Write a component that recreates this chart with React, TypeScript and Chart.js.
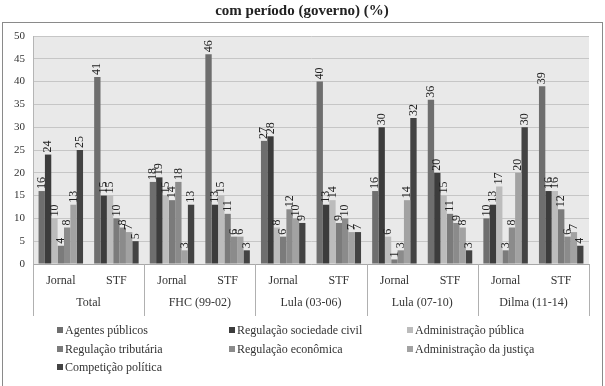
import React, { useEffect, useRef } from "react";
import { Chart, registerables } from "chart.js";

Chart.register(...registerables);

const TITLE = "com período (governo) (%)";
const subLabels = ["Jornal", "STF", "Jornal", "STF", "Jornal", "STF", "Jornal", "STF", "Jornal", "STF"];
const groupLabels = ["Total", "FHC (99-02)", "Lula (03-06)", "Lula (07-10)", "Dilma (11-14)"];
const seriesNames = [
  "Agentes públicos",
  "Regulação sociedade civil",
  "Administração pública",
  "Regulação tributária",
  "Regulação econômica",
  "Administração da justiça",
  "Competição política",
];
const agentesPublicos = [16, 41, 18, 46, 27, 40, 16, 36, 10, 39];
const regulacaoSociedadeCivil = [24, 15, 19, 13, 28, 13, 30, 20, 13, 16];
const administracaoPublica = [10, 15, 15, 15, 8, 14, 6, 15, 17, 16];
const regulacaoTributaria = [4, 10, 14, 11, 6, 9, 1, 11, 3, 12];
const regulacaoEconomica = [8, 8, 18, 6, 12, 10, 3, 9, 8, 6];
const administracaoJustica = [13, 7, 3, 6, 10, 7, 14, 8, 20, 7];
const competicaoPolitica = [25, 5, 13, 3, 9, 7, 32, 3, 30, 4];
const seriesColors = ["#6e6e6e", "#3c3c3c", "#bcbcbc", "#7b7b7b", "#8b8b8b", "#a2a2a2", "#434343"];
const yTicks = [0, 5, 10, 15, 20, 25, 30, 35, 40, 45, 50];

const FONT = "'Liberation Serif', 'Times New Roman', serif";

export default function App() {
  const ref = useRef<HTMLCanvasElement | null>(null);
  useEffect(() => {
    document.body.style.margin = "0";
    const canvas = ref.current;
    if (!canvas) return;
    const values = [
      agentesPublicos,
      regulacaoSociedadeCivil,
      administracaoPublica,
      regulacaoTributaria,
      regulacaoEconomica,
      administracaoJustica,
      competicaoPolitica,
    ];
    const decor = {
      id: "decor",
      beforeDraw(chart: any) {
        const ctx = chart.ctx;
        const a = chart.chartArea;
        ctx.save();
        ctx.fillStyle = "#ffffff";
        ctx.fillRect(0, 0, chart.width, chart.height);
        ctx.fillStyle = "#e9e9e9";
        ctx.fillRect(a.left, a.top, a.right - a.left, a.bottom - a.top);
        ctx.restore();
      },
      afterDraw(chart: any) {
        const ctx = chart.ctx;
        const a = chart.chartArea;
        const xs = chart.scales.x;
        ctx.save();
        // outer frame
        ctx.strokeStyle = "#8a8a8a";
        ctx.lineWidth = 1;
        ctx.strokeRect(2.5, 22.5, 600, 400);
        // title
        ctx.fillStyle = "#222";
        ctx.font = `bold 15px ${FONT}`;
        ctx.textAlign = "center";
        ctx.textBaseline = "middle";
        ctx.fillText(TITLE, 302, 11);
        // data labels
        ctx.font = `12px ${FONT}`;
        ctx.fillStyle = "#222";
        chart.data.datasets.forEach((ds: any, di: number) => {
          const meta = chart.getDatasetMeta(di);
          meta.data.forEach((el: any, i: number) => {
            ctx.save();
            ctx.translate(el.x, el.y - 2);
            ctx.rotate(-Math.PI / 2);
            ctx.textAlign = "left";
            ctx.textBaseline = "middle";
            ctx.fillText(String(ds.data[i]), 0, 0);
            ctx.restore();
          });
        });
        // group separators & labels
        ctx.strokeStyle = "#b0b0b0";
        ctx.lineWidth = 1;
        const n = subLabels.length;
        const bounds: number[] = [a.left];
        for (let g = 1; g < groupLabels.length; g++) {
          const i = g * 2;
          bounds.push((xs.getPixelForValue(i - 1) + xs.getPixelForValue(i)) / 2);
        }
        bounds.push(a.right);
        bounds.forEach((bx) => {
          const px = Math.round(bx) + 0.5;
          ctx.beginPath();
          ctx.moveTo(px, a.bottom);
          ctx.lineTo(px, a.bottom + 52);
          ctx.stroke();
        });
        ctx.font = `12px ${FONT}`;
        ctx.fillStyle = "#333";
        ctx.textAlign = "center";
        ctx.textBaseline = "middle";
        groupLabels.forEach((lab, g) => {
          const cx = (xs.getPixelForValue(g * 2) + xs.getPixelForValue(g * 2 + 1)) / 2;
          ctx.fillText(lab, cx, a.bottom + 39);
        });
        void n;
        // legend
        const cols = [60, 232, 410];
        const rows = [330, 349, 367];
        ctx.textAlign = "left";
        seriesNames.forEach((name, k) => {
          const cx = cols[k % 3];
          const cy = rows[Math.floor(k / 3)];
          ctx.fillStyle = seriesColors[k];
          ctx.fillRect(cx - 3, cy - 3, 6, 6);
          ctx.fillStyle = "#333";
          ctx.fillText(name, cx + 5, cy + 1);
        });
        ctx.restore();
      },
    };
    const chart = new Chart(canvas, {
      type: "bar",
      data: {
        labels: subLabels,
        datasets: seriesNames.map((name, k) => ({
          label: name,
          data: values[k],
          backgroundColor: seriesColors[k],
          borderWidth: 0,
          categoryPercentage: 0.8,
          barPercentage: 1.0,
        })),
      },
      options: {
        responsive: false,
        animation: false,
        devicePixelRatio: 1,
        layout: { padding: { left: 0, top: 36, right: 16, bottom: 70 } },
        plugins: {
          legend: { display: false },
          title: { display: false },
          tooltip: { enabled: false },
        },
        scales: {
          x: {
            grid: { display: false, drawTicks: false },
            border: { color: "#a8a8a8" },
            ticks: {
              color: "#333",
              font: { family: FONT, size: 12 },
              padding: 10,
              maxRotation: 0,
            },
            afterFit(scale: any) {
              scale.height = 52;
            },
          },
          y: {
            min: 0,
            max: 50,
            afterBuildTicks(scale: any) {
              scale.ticks = yTicks.map((v) => ({ value: v }));
            },
            grid: { color: "#c6c6c6", drawTicks: false },
            border: { color: "#b5b5b5" },
            ticks: {
              color: "#333",
              font: { family: FONT, size: 11 },
              padding: 8,
            },
            afterFit(scale: any) {
              scale.width = 33;
            },
          },
        },
      },
      plugins: [decor],
    });
    return () => chart.destroy();
  }, []);
  return (
    <div style={{ position: "absolute", left: 0, top: 0, width: 605, height: 386 }}>
      <canvas ref={ref} width={605} height={386} style={{ width: 605, height: 386, display: "block" }} />
    </div>
  );
}
